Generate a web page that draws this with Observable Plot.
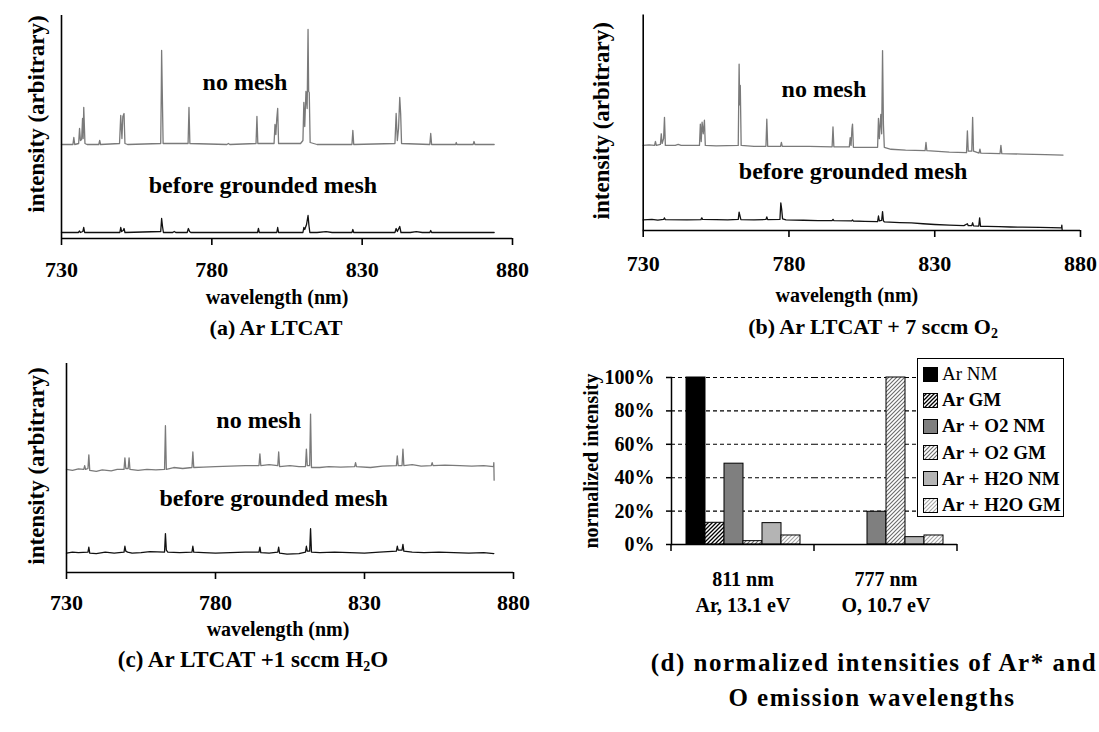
<!DOCTYPE html>
<html><head><meta charset="utf-8">
<script src="https://cdn.jsdelivr.net/npm/d3@7"></script>
<script src="https://cdn.jsdelivr.net/npm/@observablehq/plot@0.6"></script>
<style>
body{margin:0;background:#fff;}
#root{position:relative;width:1099px;height:732px;overflow:hidden;background:#fff;font-family:"Liberation Serif","Times New Roman",serif;color:#000;}
.panel{position:absolute;}
.lbl{position:absolute;transform:translate(-50%,-50%);white-space:nowrap;font-weight:bold;line-height:1;}
.legend{position:absolute;border:1px solid #000;background:#fff;box-sizing:border-box;padding-top:2px;}
.legend .row{display:flex;align-items:center;height:26.2px;padding-left:5px;font-size:19px;font-weight:bold;white-space:nowrap;}
.legend .row svg{margin-right:4px;flex:none;}
</style></head><body>
<svg width="0" height="0" style="position:absolute"><defs>
<pattern id="hatchDark" patternUnits="userSpaceOnUse" width="4" height="4"><rect width="4" height="4" fill="#fff"/><path d="M-1,1 L1,-1 M0,4 L4,0 M3,5 L5,3" stroke="#000" stroke-width="1.3"/></pattern>
<pattern id="hatchMid" patternUnits="userSpaceOnUse" width="4" height="4"><rect width="4" height="4" fill="#fff"/><path d="M-1,1 L1,-1 M0,4 L4,0 M3,5 L5,3" stroke="#6a6a6a" stroke-width="1.1"/></pattern>
<pattern id="hatchLight" patternUnits="userSpaceOnUse" width="4" height="4"><rect width="4" height="4" fill="#fff"/><path d="M-1,1 L1,-1 M0,4 L4,0 M3,5 L5,3" stroke="#a5a5a5" stroke-width="1.1"/></pattern>
</defs></svg>
<div id="root"></div>
<script>
// ---------- data ----------
const wavelengthTicks = [730, 780, 830, 880];
const noteLabels = ["no mesh", "before grounded mesh"];

// (a) Ar LTCAT : [wavelength nm, intensity (arbitrary)]
const aNoMesh = [[730,94],[733.8,94],[734.1,101],[734.4,94],[735.7,95],[736.0,110],[736.3,98],[736.7,99],[737.0,120],[737.2,100],[737.4,131],[737.8,95],[738.5,94],[742.4,94],[742.7,98],[743.0,94],[749.3,95],[749.7,123],[750.1,100],[750.4,122],[750.8,125],[751.1,95],[752,94],[763.0,95],[763.2,150],[763.3,188],[763.5,150],[763.8,95],[772.1,95],[772.4,131],[772.7,95],[785,94],[785.5,95],[786,94],[794.7,95],[795.0,122],[795.3,95],[800.7,95],[801.0,114],[801.3,104],[801.6,120],[801.9,130],[802.2,95],[809.5,95],[810.3,98],[810.6,136],[810.9,112],[811.3,147],[811.7,130],[812.0,209],[812.2,147],[812.4,146],[812.7,96],[815,94],[826.6,94],[826.9,108],[827.2,94],[840.9,95],[841.3,125],[841.7,98],[842.1,110],[842.5,141],[842.8,125],[843.1,95],[852.5,94],[852.8,105],[853.1,94],[861.1,94],[861.3,96],[861.5,94],[866.9,94],[867.2,97],[867.5,94],[873.9,94]];
const aGrounded = [[730,6],[735.6,6],[736.0,7.5],[736.3,6],[737.1,7],[737.4,11],[737.7,6],[749.4,6],[749.7,11],[750.0,7],[750.5,8],[750.8,10],[751.1,6],[763.0,7],[763.3,20],[763.6,12],[763.9,6],[767.0,6],[767.5,7],[768.0,6],[771.8,6],[772.2,10],[772.6,7],[773.0,6],[795.2,6],[795.5,10],[795.8,6],[801.6,6],[801.9,11],[802.2,6],[810.3,6],[810.6,11],[810.9,9],[811.5,14],[812.0,23],[812.3,13],[812.6,6],[815,6],[818,6.8],[820,6],[826.6,6],[826.9,9],[827.2,6],[840.9,6],[841.3,10],[841.7,7],[842.5,12],[842.9,6],[846,6],[848,6.8],[850,6],[852.5,6],[852.8,8],[853.1,6],[873.9,6]];
const aNotePos = [[791, 156], [797, 53]];

// (b) Ar LTCAT + 7 sccm O2
const bNoMesh = [[730,88],[732,88.5],[733.9,88],[734.2,92],[734.5,88],[735.9,89],[736.2,100],[736.5,90],[737.0,95],[737.3,117],[737.6,88],[741,88],[742,89],[743,88],[749.3,88],[749.6,110],[749.9,92],[750.2,112],[750.6,100],[751.0,114],[751.3,88],[755,87.5],[762.6,88],[762.9,172],[763.1,130],[763.3,150],[763.6,88],[768,87],[772.1,87],[772.4,115],[772.7,87],[777.1,87],[777.4,91],[777.7,87],[787,87],[794.8,86.5],[795.1,107],[795.4,86.5],[800.7,86.5],[801.0,96],[801.3,88],[801.6,105],[801.8,110],[802.1,86],[810.4,86],[810.7,116],[811.0,95],[811.5,120],[811.8,100],[812.1,186],[812.4,110],[812.7,86],[815,84],[820,83],[826.7,82.5],[827.0,91],[827.3,82.5],[835,81],[840.9,80.5],[841.2,103],[841.5,82],[842.7,82],[843.0,117],[843.3,82],[845.2,80],[845.5,84],[845.8,80],[852.4,79.5],[852.7,88],[853.0,79.5],[860,79],[868,78.5],[874,78]];
const bGrounded = [[730,11],[733,11.5],[735,10.8],[737.0,11.4],[737.3,13],[737.6,11.2],[745,11],[749.8,11.3],[750.1,13],[750.4,11.4],[755,11.2],[759,11],[762.6,11.4],[762.9,19],[763.2,15],[763.5,11.2],[768,11],[772.1,11.4],[772.4,14],[772.7,11.2],[776.9,11.5],[777.2,28.5],[777.5,22],[777.8,12],[779,11],[785,10.6],[790,10.3],[794.8,10.3],[795.1,11.5],[795.4,10.2],[801.5,10],[801.8,11],[802.1,9.8],[806,9.5],[810.4,9.2],[810.7,15],[811.0,10],[811.8,10.5],[812.1,19.5],[812.4,10],[812.7,9],[818,8.2],[822,7.8],[826,7],[830,6.2],[835,5.5],[840,5],[841.2,7],[841.5,5],[842.7,5],[843.0,8],[843.3,4.8],[845.1,4.6],[845.4,13],[845.7,4.4],[848,4.2],[852,4],[856,3.6],[860,3.4],[866,3.2],[870,3],[873.5,2.8],[873.6,5.5],[873.7,1]];
const bNotePos = [[792, 146], [802, 61]];

// (c) Ar LTCAT + 1 sccm H2O
const cNoMesh = [[730,106],[732,105],[734,106.5],[735.8,106],[736.1,110],[736.4,106],[737.2,107],[737.5,121],[737.8,105],[740,104],[742,105.5],[745,104.5],[747,106],[749.3,106],[749.6,118],[749.9,107],[750.7,107],[751.0,118],[751.3,106],[754,105],[757,106],[760,105.5],[762.9,106],[763.2,151],[763.5,106],[766,108],[769,107],[772.1,108],[772.4,124],[772.7,108],[776,108.5],[780,109],[785,109.5],[790,110],[794.6,110],[794.9,122],[795.2,110],[798,111],[800.9,110],[801.2,124],[801.5,109],[805,110],[808,109],[810.2,109],[810.5,127],[810.8,110],[811.6,110],[811.9,163],[812.2,108],[815,108],[818,109],[822,108.5],[826.7,109],[827,113],[827.3,109],[832,108],[836,109.5],[840.7,110],[841,120],[841.3,110],[842.6,110],[842.9,127],[843.2,110],[846,111],[849,109.5],[852.4,110],[852.7,113],[853,110],[857,110.5],[862,110],[866,109.5],[870,110],[873.3,109],[873.4,113],[873.5,95]];
const cGrounded = [[730,20],[732,21],[734,20.5],[737.2,21],[737.5,26],[737.8,20],[740,19.5],[743,21],[746,20],[749.3,21],[749.6,27],[749.9,22],[750.5,21],[752,20],[755,20.5],[758,21.5],[762.9,21],[763.2,40],[763.5,23],[764,21],[768,20.5],[772.1,21],[772.4,27],[772.7,21],[776,20.5],[780,20],[785,20.5],[790,21],[794.6,21],[794.9,26],[795.2,20.5],[798,20],[800.9,21],[801.2,26],[801.5,20],[804,19],[808,19.5],[810.2,21],[810.5,27],[810.8,22],[811.6,22],[811.9,45],[812.2,21],[815,20.5],[820,21],[825,20.5],[830,20],[835,21],[840.7,22],[841,27],[841.3,23],[842.6,23],[842.9,29],[843.2,22],[846,21],[850,20.5],[855,21],[860,20.5],[865,20],[870,20.5],[873.4,19.5]];
const cNotePos = [[794.5, 157], [799.5, 76]];

// (d) normalized intensities
const barCategories = ["811 nm\nAr, 13.1 eV", "777 nm\nO, 10.7 eV"];
const barSeries = ["Ar NM", "Ar GM", "Ar + O2 NM", "Ar + O2 GM", "Ar + H2O NM", "Ar + H2O GM"];
const values811 = [1.00, 0.13, 0.484, 0.02, 0.128, 0.054];
const values777 = [0, 0, 0.196, 1.00, 0.044, 0.054];
const barFills = ["#000000", "url(#hatchDark)", "#7f7f7f", "url(#hatchMid)", "#b4b4b4", "url(#hatchLight)"];
const percentTicks = [0, 0.2, 0.4, 0.6, 0.8, 1.0];

// ---------- drawing ----------
const root = document.getElementById("root");
const FONT = '"Liberation Serif", "Times New Roman", serif';

function place(node, left, top) {
  const d = document.createElement("div");
  d.className = "panel";
  d.style.left = left + "px"; d.style.top = top + "px";
  d.appendChild(node); root.appendChild(d);
}
function label(html, cx, cy, size, extra) {
  const d = document.createElement("div");
  d.className = "lbl";
  d.style.left = cx + "px"; d.style.top = cy + "px";
  d.style.fontSize = size + "px";
  if (extra) Object.assign(d.style, extra);
  d.innerHTML = html; root.appendChild(d);
}

function spectrum(o) {
  const notes = noteLabels.map((t, i) => ({t, nm: o.notes[i][0], v: o.notes[i][1]}));
  return Plot.plot({
    width: o.width, height: o.height,
    marginLeft: o.ml, marginTop: o.mt, marginRight: o.mr, marginBottom: o.mb,
    x: {domain: [730, 880]},
    y: {domain: [0, o.ymax], axis: null},
    style: {fontFamily: FONT, fontSize: "22px", fontWeight: "bold", background: "transparent", overflow: "visible"},
    marks: [
      Plot.line(o.noMesh, {x: d => d[0], y: d => d[1], stroke: "#7a7a7a", strokeWidth: 1.3}),
      Plot.line(o.grounded, {x: d => d[0], y: d => d[1], stroke: "#111", strokeWidth: 1.3}),
      Plot.ruleX([730], {strokeWidth: 1.6}),
      Plot.ruleY([0], {strokeWidth: 1.6}),
      Plot.axisX({ticks: wavelengthTicks, tickFormat: d3.format("d"), tickSize: 7, tickPadding: o.tickPad, strokeWidth: 1.6, label: null, fontSize: 22}),
      Plot.text(notes, {x: "nm", y: "v", text: "t", fontSize: 24, fontWeight: "bold"}),
      Plot.text(["wavelength (nm)"], {frameAnchor: "bottom", lineAnchor: "middle", dx: o.xlabDx, dy: o.xlabDy, fontSize: 20, fontWeight: "bold"}),
      Plot.text(["intensity (arbitrary)"], {frameAnchor: "left", textAnchor: "middle", rotate: -90, dx: o.ylabDx, dy: o.ylabDy, fontSize: 23, fontWeight: "bold"})
    ]
  });
}

// (a)
place(spectrum({width: 540, height: 320, ml: 61, mt: 15, mr: 28, mb: 82, ymax: 223, tickPad: 16,
  noMesh: aNoMesh, grounded: aGrounded, notes: aNotePos, xlabDx: -10, xlabDy: 59, ylabDx: -25, ylabDy: -13}), 0, 0);
// (b)
place(spectrum({width: 539, height: 320, ml: 82.7, mt: 14.5, mr: 19, mb: 90, ymax: 222.8, tickPad: 18,
  noMesh: bNoMesh, grounded: bGrounded, notes: bNotePos, xlabDx: -15, xlabDy: 65, ylabDx: -42, ylabDy: -2}), 560, 0);
// (c)
place(spectrum({width: 540, height: 320, ml: 66, mt: 13, mr: 27, mb: 98, ymax: 215, tickPad: 15,
  noMesh: cNoMesh, grounded: cGrounded, notes: cNotePos, xlabDx: -12, xlabDy: 57, ylabDx: -30, ylabDy: -2}), 0, 350);

// (d)
const bars = barCategories.flatMap((c, i) => barSeries.map((s, j) => ({cat: c, series: s, value: [values811, values777][i][j]})));
const chartD = Plot.plot({
  width: 539, height: 280,
  marginLeft: 110, marginTop: 27, marginRight: 142, marginBottom: 86,
  fx: {domain: barCategories, padding: 0},
  x: {domain: barSeries, paddingInner: 0, paddingOuter: 0.74, axis: null},
  y: {domain: [0, 1]},
  color: {type: "ordinal", domain: barSeries, range: barFills},
  style: {fontFamily: FONT, fontSize: "20px", fontWeight: "bold", background: "transparent", overflow: "visible"},
  marks: [
    Plot.gridY(percentTicks.slice(1), {stroke: "#000", strokeOpacity: 1, strokeDasharray: "4,3", strokeWidth: 1.1}),
    Plot.barY(bars, {fx: "cat", x: "series", y: "value", fill: "series", stroke: "#000", strokeWidth: 1}),
    Plot.ruleY([0], {strokeWidth: 1.5}),
    Plot.frame({anchor: "left", facetAnchor: "left", strokeWidth: 1.5}),
    Plot.axisY({ticks: percentTicks, tickFormat: d3.format(".0%"), tickSize: 5, tickPadding: 12, strokeWidth: 1.5, label: null, fontSize: 20}),
    Plot.axisFx({anchor: "bottom", tickSize: 0, tickPadding: 23, label: null, fontSize: 20, lineHeight: 1.3}),
    Plot.text(["normalized intensity"], {frameAnchor: "left", facetAnchor: "left", textAnchor: "middle", rotate: -90, dx: -80, fontSize: 20, fontWeight: "bold"})
  ]
});
// category boundary ticks, placed with the plot's own fx and y scales
{
  const fx = chartD.scale("fx"), ys = chartD.scale("y");
  const y0 = ys.apply(0);
  const edges = fx.domain.map(d => fx.apply(d));
  edges.push(fx.apply(fx.domain[fx.domain.length - 1]) + fx.bandwidth);
  d3.select(chartD).append("g").selectAll("line").data(edges).join("line")
    .attr("x1", d => d).attr("x2", d => d).attr("y1", y0).attr("y2", y0 + 7)
    .attr("stroke", "#000").attr("stroke-width", 1.5);
}
place(chartD, 560, 350);

// legend for (d)
{
  const lg = document.createElement("div");
  lg.className = "legend";
  Object.assign(lg.style, {left: "917px", top: "358px", width: "147px", height: "159px"});
  barSeries.forEach((s, i) => {
    const row = document.createElement("div");
    row.className = "row";
    if (i === 0) row.style.fontWeight = "normal";
    row.innerHTML = `<svg width="15" height="15"><rect x="0.5" y="0.5" width="14" height="14" fill="${barFills[i]}" stroke="#000" stroke-width="1"/></svg><span>${s}</span>`;
    lg.appendChild(row);
  });
  root.appendChild(lg);
}

// panel titles
const sub = s => `<sub style='font-size:14px;vertical-align:-4px'>${s}</sub>`;
label("(a) Ar LTCAT", 276, 328, 22);
label(`(b) Ar LTCAT + 7 sccm O${sub(2)}`, 873, 328, 22);
label(`(c) Ar LTCAT +1 sccm H${sub(2)}O`, 253, 661, 23);
label("(d) normalized intensities of Ar* and", 874, 662, 25, {letterSpacing: "1.5px"});
label("O emission wavelengths", 872, 697, 25, {letterSpacing: "1.5px"});
</script>
</body></html>
